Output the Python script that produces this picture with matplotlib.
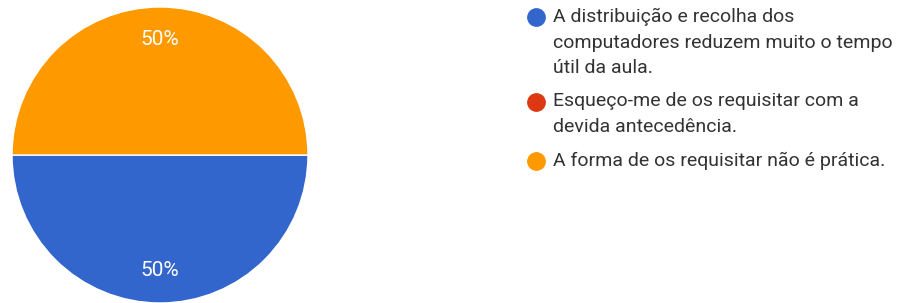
import matplotlib
matplotlib.use("Agg")
import matplotlib.pyplot as plt
from matplotlib.lines import Line2D

# Dados do gráfico (respostas)
categorias = [
    "A distribuição e recolha dos\ncomputadores reduzem muito o tempo\nútil da aula.",
    "Esqueço-me de os requisitar com a\ndevida antecedência.",
    "A forma de os requisitar não é prática.",
]
valores = [50, 0, 50]
cores = ["#3366cc", "#dc3912", "#ff9900"]

W, H = 897, 303
fig = plt.figure(figsize=(W / 100, H / 100), dpi=100)
plt.rcParams["font.family"] = ["Roboto", "DejaVu Sans"]

# Eixo do gráfico circular (centro ~ (160,155), raio ~148 px)
cx, cy, r = 160, 155, 148
ax = fig.add_axes([(cx - r) / W, (H - cy - r) / H, 2 * r / W, 2 * r / H])


def rotulo(p):
    return "%d%%" % round(p) if p > 0.5 else ""


wedges, textos, autotextos = ax.pie(
    valores, colors=cores, startangle=180, counterclock=True,
    autopct=rotulo, pctdistance=0.78,
    wedgeprops=dict(edgecolor="white", linewidth=1.0),
    textprops=dict(color="white", fontsize=15))
ax.set_xlim(-1, 1)
ax.set_ylim(-1, 1)

# Legenda desenhada à mão
x_marca, x_texto = 536, 553
passo_linha = 25.5
espaco = 8
y = 17
for cat, cor in zip(categorias, cores):
    fig.add_artist(Line2D([x_marca / W], [1 - y / H], marker="o",
                          markersize=12.5, color=cor, linestyle="none",
                          transform=fig.transFigure))
    linhas = cat.split("\n")
    for i, linha in enumerate(linhas):
        fig.text(x_texto / W, 1 - (y + i * passo_linha) / H, linha,
                 fontsize=14, color="#333333", va="center", ha="left")
    y += len(linhas) * passo_linha + espaco

fig.savefig("out.png", dpi=100)
